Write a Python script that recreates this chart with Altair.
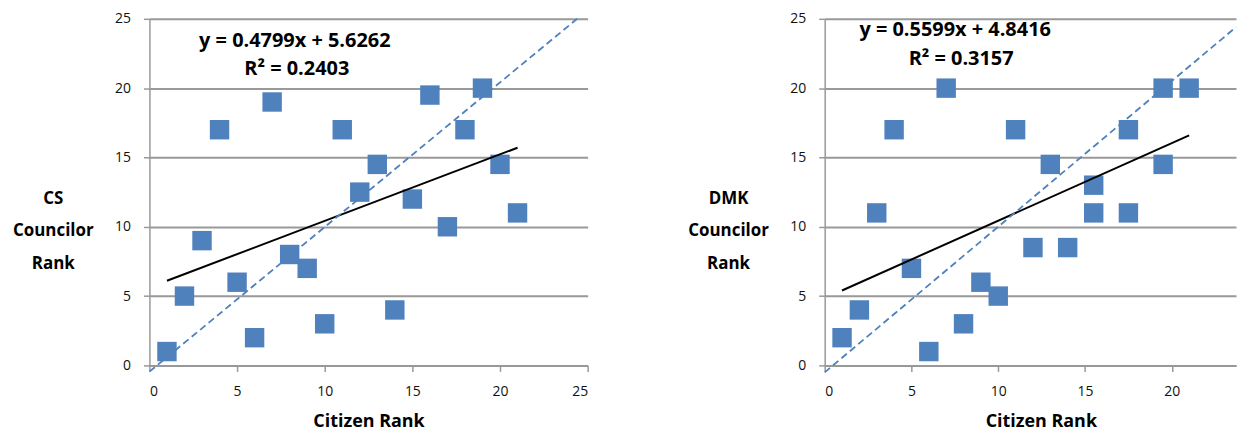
import altair as alt
import pandas as pd
import numpy as np

# ---- data ----
cs_citizen = [1, 2, 3, 4, 5, 6, 7, 8, 9, 10, 11, 12, 13, 14, 15, 16, 17, 18, 19, 20, 21]
cs_councilor = [1, 5, 9, 17, 6, 2, 19, 8, 7, 3, 17, 12.5, 14.5, 4, 12, 19.5, 10, 17, 20, 14.5, 11]

dmk_citizen = [1, 2, 3, 4, 5, 6, 7, 8, 9, 10, 11, 12, 13, 14, 15.5, 15.5, 17.5, 17.5, 19.5, 19.5, 21]
dmk_councilor = [2, 4, 11, 17, 7, 1, 20, 3, 6, 5, 17, 8.5, 14.5, 8.5, 13, 11, 17, 11, 20, 14.5, 20]

# reference (dashed) diagonal, as drawn
cs_diag_x = [0, 24.4]
cs_diag_y = [-0.45, 25]
dmk_diag_x = [0, 23.7]
dmk_diag_y = [-0.5, 24.4]

x_ticks_cs = [0, 5, 10, 15, 20, 25]
x_ticks_dmk = [0, 5, 10, 15, 20]
y_ticks = [0, 5, 10, 15, 20, 25]

BLUE = "#4F81BD"
GRID = "#999999"
FONT = "Open Sans"


def equation(x, y):
    x = np.asarray(x, float)
    y = np.asarray(y, float)
    slope, intercept = np.polyfit(x, y, 1)
    r2 = np.corrcoef(x, y)[0, 1] ** 2
    return f"y = {slope:.4f}x + {intercept:.4f}", f"R\u00b2 = {r2:.4f}"


def panel(xv, yv, dx, dy, ytitle, xmax, xticks, width, height, eq_pos, r2_pos, xtitle_x):
    df = pd.DataFrame({"x": xv, "y": yv})
    diag = pd.DataFrame({"x": dx, "y": dy})
    eq, r2 = equation(xv, yv)

    xenc = alt.X(
        "x:Q",
        scale=alt.Scale(domain=[0, xmax], nice=False, zero=False),
        axis=alt.Axis(
            values=xticks, grid=False, title="Citizen Rank",
            titleX=xtitle_x, titleY=56, titleAlign="center", titleBaseline="middle",
            titleFontSize=18, labelPadding=13, tickSize=6,
        ),
    )
    yenc = alt.Y(
        "y:Q",
        scale=alt.Scale(domain=[0, 25], nice=False, zero=False),
        axis=alt.Axis(
            values=y_ticks, grid=True, title=ytitle, titleAngle=0,
            titleX=-97, titleY=180, titleAlign="center", titleBaseline="middle",
            titleLineHeight=33, labelPadding=13, tickSize=6,
        ),
    )

    points = alt.Chart(df).mark_point(
        shape="square", filled=True, size=380, color=BLUE, opacity=1
    ).encode(x=xenc, y=yenc)

    trend = alt.Chart(df).transform_regression("x", "y").mark_line(
        color="black", strokeWidth=2
    ).encode(x="x:Q", y="y:Q")

    dashed = alt.Chart(diag).mark_line(
        color=BLUE, strokeDash=[7, 4], strokeWidth=1.8
    ).encode(x="x:Q", y="y:Q")

    t1 = alt.Chart(pd.DataFrame({"t": [eq]})).mark_text(
        font=FONT, fontSize=20, fontWeight="bold", color="black",
        align="center", baseline="middle",
    ).encode(text="t:N", x=alt.value(eq_pos[0]), y=alt.value(eq_pos[1]))
    t2 = alt.Chart(pd.DataFrame({"t": [r2]})).mark_text(
        font=FONT, fontSize=20, fontWeight="bold", color="black",
        align="center", baseline="middle",
    ).encode(text="t:N", x=alt.value(r2_pos[0]), y=alt.value(r2_pos[1]))

    return alt.layer(points, trend, dashed, t1, t2).properties(width=width, height=height)


left = panel(cs_citizen, cs_councilor, cs_diag_x, cs_diag_y,
             ["CS", "Councilor", "Rank"], 25, x_ticks_cs, 440, 348,
             (146, 22), (148, 50), 220)
right = panel(dmk_citizen, dmk_councilor, dmk_diag_x, dmk_diag_y,
              ["DMK", "Councilor", "Rank"], 23.7, x_ticks_dmk, 413, 348,
              (131, 11), (137, 40), 217)

chart = alt.hconcat(left, right, spacing=238, bounds="flush").properties(
    padding={"left": 4, "top": 3, "right": 0, "bottom": 0}
).configure_view(stroke=None).configure_axis(
    domainColor=GRID, domainWidth=1.5, tickColor=GRID, tickWidth=1.5,
    gridColor=GRID, gridWidth=2, labelFont=FONT, labelFontSize=14,
    labelColor="#111111", titleFont=FONT, titleFontSize=17,
    titleFontWeight="bold", titleColor="black",
)

chart.save("out.html", embed_options={"renderer": "svg", "actions": False})
